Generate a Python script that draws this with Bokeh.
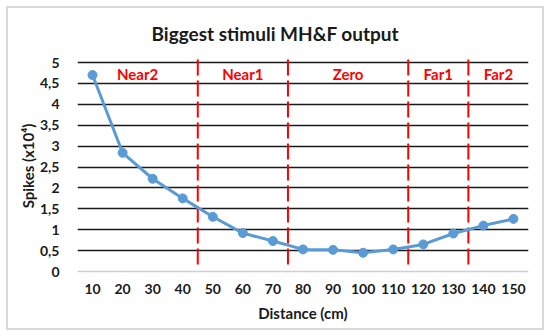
from bokeh.plotting import figure
from bokeh.models import Range1d, FixedTicker, Span, ColumnDataSource
from bokeh.embed import file_html
from bokeh.resources import INLINE
from bokeh.core.properties import value

distance = [10, 20, 30, 40, 50, 60, 70, 80, 90, 100, 110, 120, 130, 140, 150]
spikes = [4.70, 2.84, 2.22, 1.75, 1.31, 0.92, 0.73, 0.53, 0.52, 0.45, 0.53, 0.65, 0.91, 1.10, 1.26]
y_ticks = [0, 0.5, 1, 1.5, 2, 2.5, 3, 3.5, 4, 4.5, 5]
y_tick_labels = ["0", "0,5", "1", "1,5", "2", "2,5", "3", "3,5", "4", "4,5", "5"]
zone_bounds = [45, 75, 115, 135]
zone_names = ["Near2", "Near1", "Zero", "Far1", "Far2"]
zone_centers = [25, 60, 95, 125, 145]
zone_label_y = 4.72

FONT = "Lato"

p = figure(width=550, height=336, output_backend="svg", toolbar_location=None,
           x_range=Range1d(5, 155), y_range=Range1d(-0.07, 5.12),
           min_border_left=77, min_border_right=22, min_border_top=57, min_border_bottom=62)
p.outline_line_color = None
p.background_fill_color = None
p.border_fill_color = None
p.styles = {"background": "white",
            "box-shadow": "inset 0 0 0 6px white, inset 0 0 0 8px #d9d9d9"}

# title
p.title.text = "Biggest stimuli MH&F output"
p.title.text_font = FONT
p.title.text_font_style = "bold"
p.title.text_font_size = "19px"
p.title.text_color = "#1a1a1a"
p.title.align = "left"
p.title.offset = 74
p.title.standoff = 25

# grid
p.xgrid.visible = False
p.ygrid.ticker = FixedTicker(ticks=y_ticks[1:])
p.ygrid.grid_line_color = "#1a1a1a"
p.ygrid.grid_line_width = 1.6
p.add_layout(Span(location=0, dimension="width", line_color="#d0d0d0", line_width=1.5))

# axes
p.xaxis.ticker = FixedTicker(ticks=distance)
p.yaxis.ticker = FixedTicker(ticks=y_ticks)
p.yaxis.major_label_overrides = {t: l for t, l in zip(y_ticks, y_tick_labels)}
for ax in (p.xaxis, p.yaxis):
    ax.axis_line_color = None
    ax.major_tick_line_color = None
    ax.minor_tick_line_color = None
    ax.major_label_text_font = FONT
    ax.major_label_text_font_style = "bold"
    ax.major_label_text_font_size = "14px"
    ax.major_label_text_color = "#1a1a1a"
    ax.axis_label_text_font = FONT
    ax.axis_label_text_font_style = "bold"
    ax.axis_label_text_font_size = "15px"
    ax.axis_label_text_color = "#1a1a1a"
p.xaxis.axis_label = "Distance (cm)"
p.yaxis.axis_label = "Spikes (x10\u2074)"
p.xaxis.major_label_standoff = 3
p.yaxis.major_label_standoff = 12
p.xaxis.axis_label_standoff = 7
p.yaxis.axis_label_standoff = 0

# zone boundaries
p.segment(x0=zone_bounds, x1=zone_bounds, y0=[0.17] * len(zone_bounds), y1=[5.1] * len(zone_bounds),
          line_color="#ff0000", line_width=2, line_dash="16 5")
p.text(x=zone_centers, y=[zone_label_y] * len(zone_centers), text=zone_names,
       text_color="#ff0000", text_font=value(FONT), text_font_style="bold",
       text_font_size="15px", text_align="center", text_baseline="middle")

# data
src = ColumnDataSource(dict(x=distance, y=spikes))
p.line("x", "y", source=src, line_color="#5b9bd5", line_width=3)
p.scatter("x", "y", source=src, size=9, fill_color="#5b9bd5", line_color="#5b9bd5")

open("out.html", "w").write(file_html(p, INLINE))
